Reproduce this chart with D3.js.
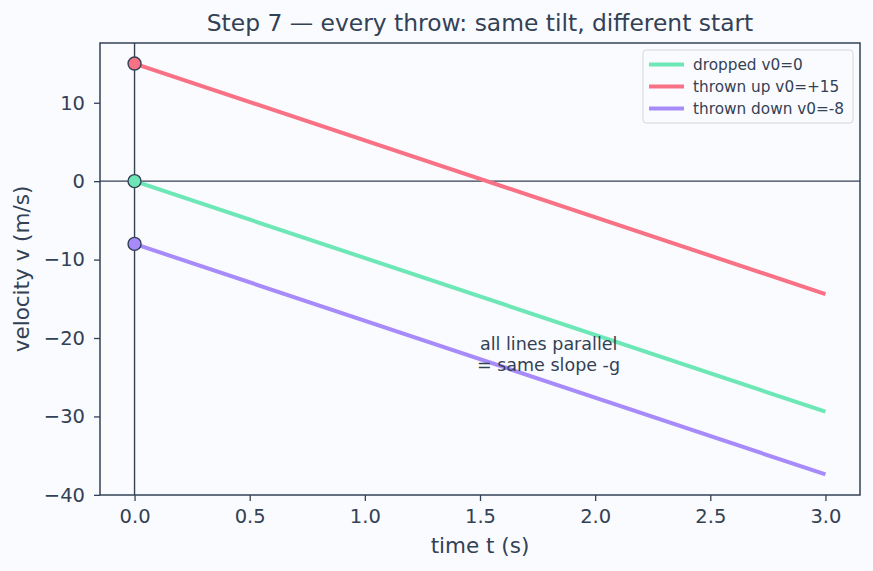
<!DOCTYPE html>
<html>
<head>
<meta charset="utf-8">
<script src="https://cdn.jsdelivr.net/npm/d3@7"></script>
<style>
  body { margin: 0; background: #fafbfe; }
  text { font-family: "DejaVu Sans", sans-serif; fill: #334155; }
</style>
</head>
<body>
<div id="chart"></div>
<script>
// Data
const times = [0, 3];
const seriesNames = ["dropped v0=0", "thrown up v0=+15", "thrown down v0=-8"];
const startVelocities = [0, 15, -8];
const endVelocities = [-29.4, -14.4, -37.4];
const seriesColors = ["#6ee7b7", "#f87185", "#a78bfa"];
const xTicks = [0, 0.5, 1, 1.5, 2, 2.5, 3];
const yTicks = [-40, -30, -20, -10, 0, 10];

const W = 873, H = 571;
const margin = { top: 43, right: 13, bottom: 76, left: 100 };
const width = W - margin.left - margin.right;
const height = H - margin.top - margin.bottom;
const ink = "#334155";

const svg = d3.select("#chart").append("svg")
    .attr("width", W).attr("height", H);

svg.append("rect").attr("width", W).attr("height", H).attr("fill", "#fafbfe");

const plot = svg.append("g")
    .attr("transform", "translate(" + margin.left + "," + margin.top + ")");

// Scales (matplotlib-like 5% margins)
const x = d3.scaleLinear().domain([-0.15, 3.15]).range([0, width]);
const y = d3.scaleLinear().domain([-40.02, 17.62]).range([height, 0]);

// Reference lines through origin
plot.append("line")
    .attr("x1", 0).attr("x2", width)
    .attr("y1", y(0)).attr("y2", y(0))
    .attr("stroke", ink).attr("stroke-width", 1.4);
plot.append("line")
    .attr("x1", x(0)).attr("x2", x(0))
    .attr("y1", 0).attr("y2", height)
    .attr("stroke", ink).attr("stroke-width", 1.4);

// Lines
const line = d3.line().x(d => x(d[0])).y(d => y(d[1]));
seriesNames.forEach((name, i) => {
    const pts = [[times[0], startVelocities[i]], [times[1], endVelocities[i]]];
    plot.append("path")
        .datum(pts)
        .attr("d", line)
        .attr("fill", "none")
        .attr("stroke", seriesColors[i])
        .attr("stroke-width", 4);
});

// Start markers
seriesNames.forEach((name, i) => {
    plot.append("circle")
        .attr("cx", x(times[0]))
        .attr("cy", y(startVelocities[i]))
        .attr("r", 6.5)
        .attr("fill", seriesColors[i])
        .attr("stroke", ink)
        .attr("stroke-width", 1.4);
});

// Annotation
const note = plot.append("text")
    .attr("x", x(1.5))
    .attr("y", y(-21.55))
    .style("font-size", "17.5px");
note.append("tspan").attr("x", x(1.5)).text("all lines parallel");
note.append("tspan").attr("x", x(1.5)).attr("dx", -3).attr("dy", 21).text("= same slope -g");

// Axes
const xAxis = plot.append("g")
    .attr("transform", "translate(0," + height + ")")
    .call(d3.axisBottom(x).tickValues(xTicks).tickFormat(d3.format(".1f")).tickSize(6).tickPadding(8));
const yAxis = plot.append("g")
    .call(d3.axisLeft(y).tickValues(yTicks).tickFormat(d => d < 0 ? "\u2212" + Math.abs(d) : d).tickSize(6).tickPadding(9));
[xAxis, yAxis].forEach(a => {
    a.select(".domain").remove();
    a.selectAll("line").attr("stroke", ink).attr("stroke-width", 1.3);
    a.selectAll("text").style("font-size", "19.5px").attr("fill", ink)
        .style("font-family", "DejaVu Sans, sans-serif");
});

// Frame
plot.append("rect")
    .attr("width", width).attr("height", height)
    .attr("fill", "none").attr("stroke", ink).attr("stroke-width", 1.5);

// Labels
svg.append("text")
    .attr("x", margin.left + width / 2).attr("y", 553)
    .attr("text-anchor", "middle").style("font-size", "21.5px")
    .text("time t (s)");
svg.append("text")
    .attr("transform", "translate(29," + (margin.top + height / 2) + ") rotate(-90)")
    .attr("text-anchor", "middle").style("font-size", "21.5px")
    .text("velocity v (m/s)");
svg.append("text")
    .attr("x", margin.left + width / 2).attr("y", 31)
    .attr("text-anchor", "middle").style("font-size", "23.4px")
    .text("Step 7 \u2014 every throw: same tilt, different start");

// Legend
const legend = svg.append("g").attr("transform", "translate(643,50)");
legend.append("rect")
    .attr("width", 210).attr("height", 73).attr("rx", 3)
    .attr("fill", "#fafbfe").attr("fill-opacity", 0.8)
    .attr("stroke", "#d4d7dd").attr("stroke-width", 1);
seriesNames.forEach((name, i) => {
    const ly = 14.5 + i * 22;
    legend.append("line")
        .attr("x1", 6).attr("x2", 41).attr("y1", ly).attr("y2", ly)
        .attr("stroke", seriesColors[i]).attr("stroke-width", 4);
    legend.append("text")
        .attr("x", 50).attr("y", ly + 5.5)
        .style("font-size", "15.3px")
        .text(name);
});
</script>
</body>
</html>
